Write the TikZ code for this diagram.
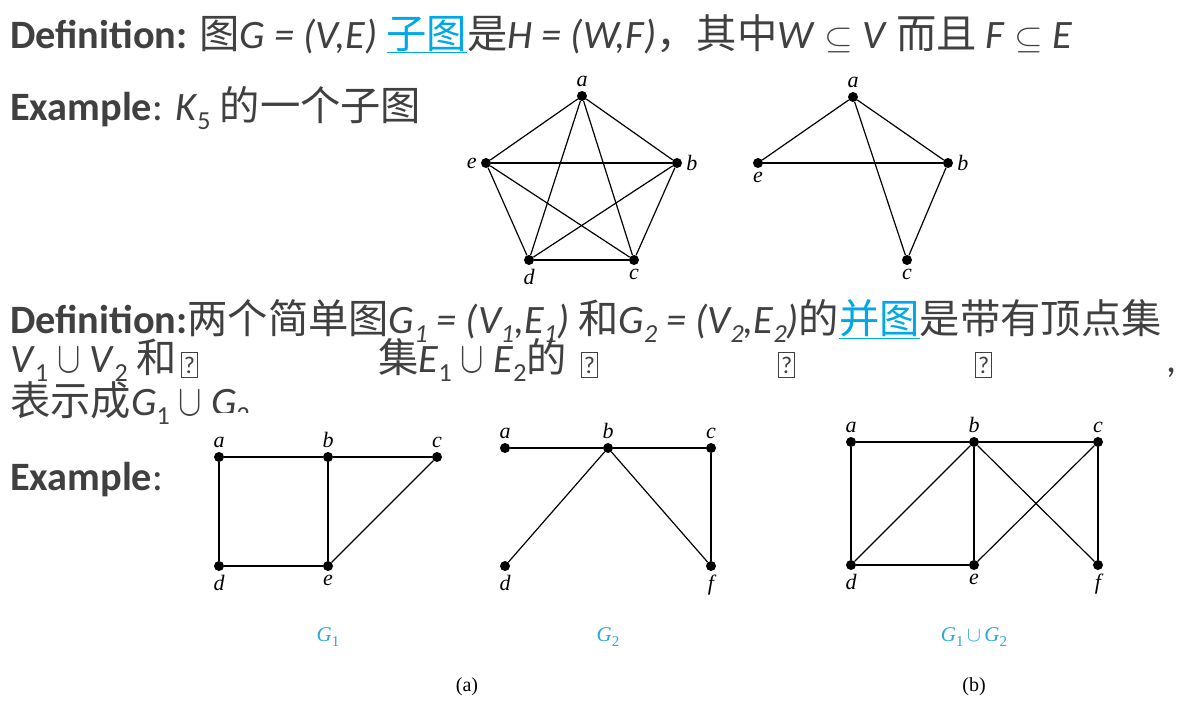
\documentclass[tikz,border=0pt]{standalone}
\usepackage{fontspec}
\setmainfont{Carlito}
\newfontfamily\cjk{Noto Sans CJK SC}
\newfontfamily\tms{Liberation Serif}
\definecolor{txt}{HTML}{404040}
\definecolor{lnk}{HTML}{00A8E8}
\definecolor{capc}{HTML}{2AA8DC}
\newcommand{\zh}[1]{{\cjk #1}}
\newcommand{\msub}[1]{\raisebox{-0.24em}{\fontsize{26}{26}\selectfont #1}}
\newcommand{\mcup}{{\fontsize{10}{10}\selectfont\scalebox{3.5}[4.4]{$\cup$}}}
\newcommand{\msse}{{\fontsize{10}{10}\selectfont\scalebox{3.7}[3.2]{$\subseteq$}}}
\begin{document}
\begin{tikzpicture}[x=1pt,y=-1pt,
  v/.style={circle, fill=black, inner sep=0pt, minimum size=10pt},
  lab/.style={font=\fontsize{22}{22}\selectfont\tms\itshape, inner sep=1pt},
  eline/.style={line width=1.2pt, black},
  txtl/.style={anchor=base west, inner sep=0pt, text=txt, font=\fontsize{40.3}{48}\selectfont},
  missing/.style={draw=txt, line width=1.1pt, inner sep=0pt, minimum width=16pt, minimum height=25pt, anchor=south west, text=txt, font=\fontsize{24}{24}\selectfont},
  capt/.style={text=capc, font=\fontsize{21}{21}\selectfont\tms, inner sep=0pt},
  sub/.style={font=\fontsize{20}{20}\selectfont\tms, inner sep=0pt},
  every label/.style={label distance=3pt}
]
\useasboundingbox (0,0) rectangle (1183,707);
\fill[white] (0,0) rectangle (1183,707);

% ---------- text ----------
\node[txtl] (l1) at (10,48) {\textbf{Definition:} \zh{图}\textit{G = (V,E)} \textcolor{lnk}{\underline{\zh{子图}}}\zh{是}\textit{H = (W,F)}\zh{，其中}\textit{W} \msse{} \textit{V} \zh{而且} \textit{F} \msse{} \textit{E}};
\node[txtl] (l2) at (10,120) {\textbf{Example}: \textit{K}\msub{5} \zh{的一个子图}};
\node[txtl] (l3) at (10,333) {\textbf{Definition:}\zh{两个简单图}\textit{G\msub{1} = (V\msub{1},E\msub{1})} \zh{和}\textit{G\msub{2} = (V\msub{2},E\msub{2})}\zh{的}\textcolor{lnk}{\underline{\zh{并图}}}\zh{是带有顶点集}};
\node[txtl] (l4a) at (10,372) {\textit{V}\msub{1} \mcup{} \textit{V}\msub{2} \zh{和}};
\node[missing] (m1) at (181,378) {?};
\node[txtl] (l4b) at (378,372) {\zh{集}\textit{E}\msub{1} \mcup{} \textit{E}\msub{2}\zh{的}};
\node[missing] (m2) at (581,378) {?};
\node[missing] (m3) at (778,378) {?};
\node[missing] (m4) at (975,378) {?};
\node[txtl] (l4c) at (1166,372) {,};
\node[txtl] (l5) at (10,415) {\zh{表示成}\textit{G}\msub{1} \mcup{} \textit{G}\msub{2}};
\fill[white] (208,413) rectangle (700,440);
\node[txtl] (l6) at (10,490) {\textbf{Example}:};

% ---------- K5 ----------
\node[v, label={[lab]above:a}] (Ka) at (582,96) {};
\node[v, label={[lab]right:b}] (Kb) at (677,163) {};
\node[v, label={[lab]below:c}] (Kc) at (634,260) {};
\node[v, label={[lab]below:d}] (Kd) at (529,260) {};
\node[v, label={[lab]left:e}] (Ke) at (486,163) {};
\foreach \s/\t in {a/b,a/c,a/d,a/e,b/c,b/d,b/e,c/d,c/e,d/e}
  \draw[eline] (K\s) -- (K\t);

% ---------- subgraph ----------
\node[v, label={[lab]above:a}] (Sa) at (853,97) {};
\node[v, label={[lab]right:b}] (Sb) at (948,163) {};
\node[v, label={[lab]below:c}] (Sc) at (907,260) {};
\node[v, label={[lab]below:e}] (Se) at (758,163) {};
\foreach \s/\t in {a/b,a/c,a/e,b/c,b/e}
  \draw[eline] (S\s) -- (S\t);

% ---------- G1 ----------
\node[v, label={[lab]above:a}] (Pa) at (219,457) {};
\node[v, label={[lab]above:b}] (Pb) at (328,457) {};
\node[v, label={[lab]above:c}] (Pc) at (437,457) {};
\node[v, label={[lab]below:d}] (Pd) at (219,566) {};
\node[v, label={[lab]below:e}] (Pe) at (328,566) {};
\foreach \s/\t in {a/b,b/c,a/d,b/e,d/e,e/c}
  \draw[eline] (P\s) -- (P\t);
\node[capt] (cap1) at (328,637) {\textit{G}\raisebox{-0.2em}{\fontsize{15}{15}\selectfont 1}};

% ---------- G2 ----------
\node[v, label={[lab]above:a}] (Qa) at (505,448) {};
\node[v, label={[lab]above:b}] (Qb) at (608,448) {};
\node[v, label={[lab]above:c}] (Qc) at (711,448) {};
\node[v, label={[lab]below:d}] (Qd) at (505,566) {};
\node[v, label={[lab]below:f}] (Qf) at (711,566) {};
\foreach \s/\t in {a/b,b/c,b/d,b/f,c/f}
  \draw[eline] (Q\s) -- (Q\t);
\node[capt] (cap2) at (608,637) {\textit{G}\raisebox{-0.2em}{\fontsize{15}{15}\selectfont 2}};

% ---------- union ----------
\node[v, label={[lab]above:a}] (Ua) at (851,442) {};
\node[v, label={[lab]above:b}] (Ub) at (974,442) {};
\node[v, label={[lab]above:c}] (Uc) at (1098,442) {};
\node[v, label={[lab]below:d}] (Ud) at (851,565) {};
\node[v, label={[lab]below:e}] (Ue) at (974,565) {};
\node[v, label={[lab]below:f}] (Uf) at (1098,565) {};
\foreach \s/\t in {a/b,b/c,a/d,d/e,b/d,b/e,b/f,c/e,c/f}
  \draw[eline] (U\s) -- (U\t);
\node[capt] (cap3) at (974,637) {\textit{G}\raisebox{-0.2em}{\fontsize{15}{15}\selectfont 1}\,$\cup$\,\textit{G}\raisebox{-0.2em}{\fontsize{15}{15}\selectfont 2}};

\node[sub] (suba) at (467,687) {(a)};
\node[sub] (subb) at (974,687) {(b)};
\end{tikzpicture}
\end{document}
